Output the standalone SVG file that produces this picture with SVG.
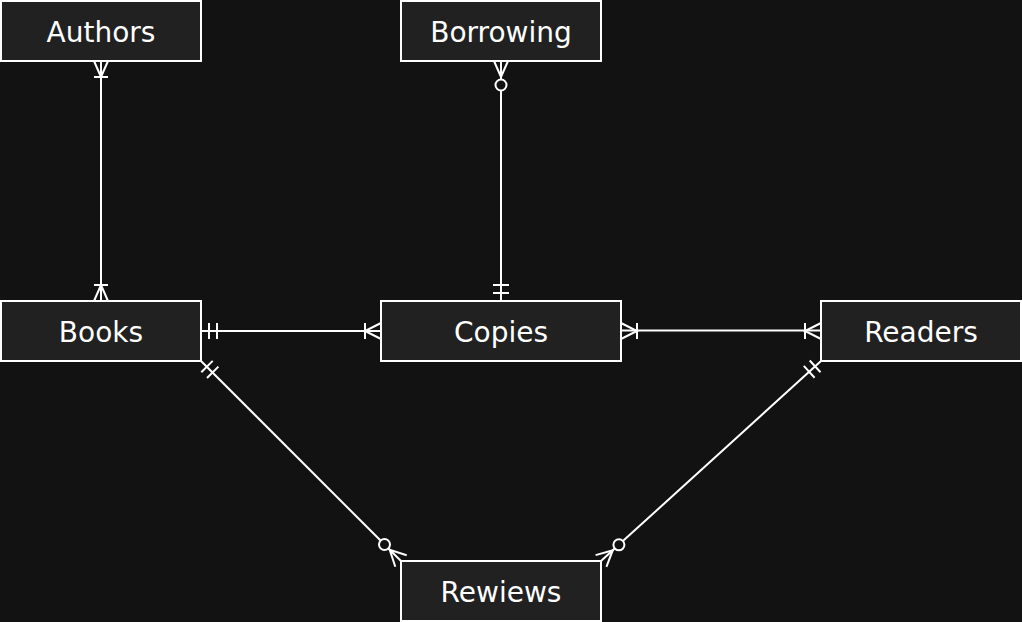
<svg xmlns="http://www.w3.org/2000/svg" width="1022" height="622" viewBox="0 0 1022 622">
<style>
.box{fill:#212121;stroke:#ffffff;stroke-width:2}
.lbl{fill:#ffffff;font-family:"DejaVu Sans",Verdana,sans-serif;font-size:28px;text-anchor:middle}
.ln{fill:none;stroke:#ffffff;stroke-width:2}
.circ{fill:#121212;stroke:#ffffff;stroke-width:2}
</style>
<rect width="1022" height="622" fill="#121212"/>
<g id="connectors">
  <!-- Authors - Books -->
  <path class="ln" d="M101,61 V301"/>
  <path class="ln" d="M94,61 L101,77 L108,61 M94,77 H108"/>
  <path class="ln" d="M94,301 L101,285 L108,301 M94,285 H108"/>
  <!-- Borrowing - Copies -->
  <path class="ln" d="M501,61 V79 M501,90 V301"/>
  <path class="ln" d="M494,61 L501,77 L508,61"/>
  <circle class="circ" cx="501" cy="85" r="5.5"/>
  <path class="ln" d="M493,285 H509 M493,293 H509"/>
  <!-- Books - Copies -->
  <path class="ln" d="M201,331 H381"/>
  <path class="ln" d="M209,323 V339 M217,323 V339"/>
  <path class="ln" d="M381,323 L365,331 L381,339 M365,323 V339"/>
  <!-- Copies - Readers -->
  <path class="ln" d="M621,330.5 H821"/>
  <path class="ln" d="M621,323 L637,331 L621,339 M637,323 V339"/>
  <path class="ln" d="M821,323 L805,331 L821,339 M805,323 V339"/>
  <!-- Books - Rewiews -->
  <path class="ln" d="M201,361 L380.8,540.8 M388.2,548.2 L401,561"/>
  <path class="ln" d="M201.3,372.3 L212.7,360.9 M207,378 L218.4,366.6"/>
  <path class="ln" d="M395.3,566.7 L389.7,549.7 L406.7,555.3"/>
  <circle class="circ" cx="384.5" cy="544.5" r="5.5"/>
  <!-- Readers - Rewiews -->
  <path class="ln" d="M821,361 L622.9,541.1 M615.2,548.1 L601,561"/>
  <path class="ln" d="M809.7,360.5 L820.5,372.3 M803.8,365.9 L814.6,377.7"/>
  <path class="ln" d="M606.4,566.9 L612.8,550.2 L595.6,555.1"/>
  <circle class="circ" cx="618.9" cy="544.8" r="5.5"/>
</g>
<g id="authors"><rect class="box" x="1" y="1" width="200" height="60"/><text class="lbl" x="101" y="42">Authors</text></g>
<g id="borrowing"><rect class="box" x="401" y="1" width="200" height="60"/><text class="lbl" x="501" y="42">Borrowing</text></g>
<g id="books"><rect class="box" x="1" y="301" width="200" height="60"/><text class="lbl" x="101" y="342">Books</text></g>
<g id="copies"><rect class="box" x="381" y="301" width="240" height="60"/><text class="lbl" x="501" y="342">Copies</text></g>
<g id="readers"><rect class="box" x="821" y="301" width="200" height="60"/><text class="lbl" x="921" y="342">Readers</text></g>
<g id="rewiews"><rect class="box" x="401" y="561" width="200" height="60"/><text class="lbl" x="501" y="602">Rewiews</text></g>
</svg>
